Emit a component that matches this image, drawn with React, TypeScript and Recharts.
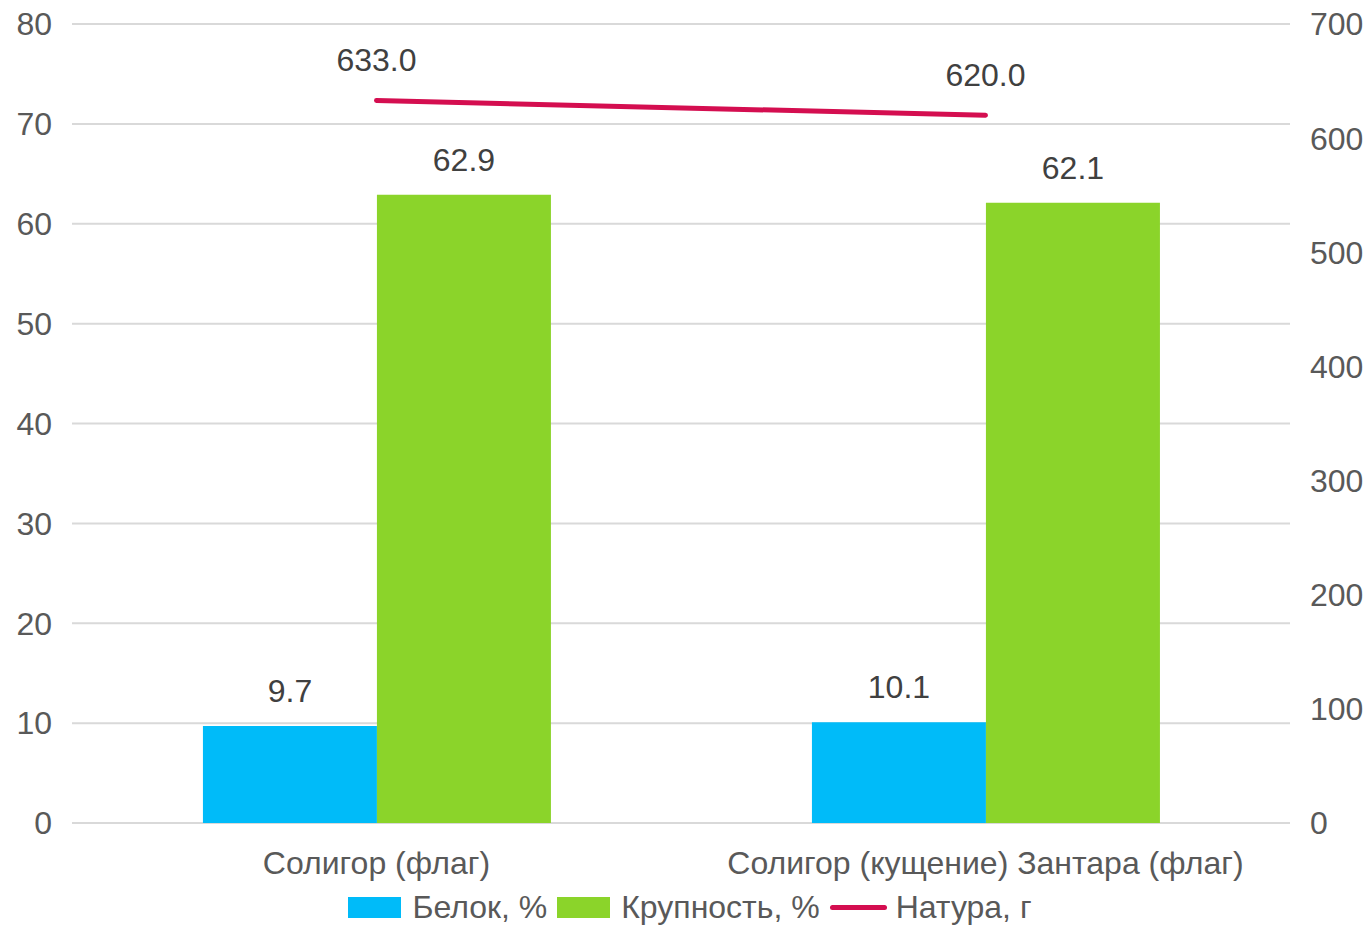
import { Bar, CartesianGrid, ComposedChart, LabelList, Legend, Line, XAxis, YAxis } from "recharts"

const categories = ["Солигор (флаг)", "Солигор (кущение) Зантара (флаг)"]
const protein = [9.7, 10.1]
const size = [62.9, 62.1]
const nature = [633.0, 620.0]
const leftTicks = [0, 10, 20, 30, 40, 50, 60, 70, 80]
const rightTicks = [0, 100, 200, 300, 400, 500, 600, 700]

const data = categories.map((name, i) => ({
  name,
  protein: protein[i],
  size: size[i],
  nature: nature[i],
}))

const font = "'Liberation Sans', Arial, sans-serif"
const FS = 32
const BLUE = "#00BBF9"
const GREEN = "#8BD42A"
const RED = "#D40E50"

const barLabel = (props: any) => {
  const { x, y, width, value } = props
  return (
    <text x={x + width / 2} y={y - 24} textAnchor="middle" fill="#404040" fontSize={FS} fontFamily={font}>
      {Number(value).toFixed(1)}
    </text>
  )
}

const lineLabel = (props: any) => {
  const { x, y, value } = props
  return (
    <text x={x} y={y - 29} textAnchor="middle" fill="#404040" fontSize={FS} fontFamily={font}>
      {Number(value).toFixed(1)}
    </text>
  )
}

const legendItems = [
  { label: "Белок, %", color: BLUE, type: "rect" },
  { label: "Крупность, %", color: GREEN, type: "rect" },
  { label: "Натура, г", color: RED, type: "line" },
]

function LegendContent() {
  return (
    <div
      style={{
        display: "flex",
        justifyContent: "center",
        alignItems: "center",
        height: 45,
        paddingLeft: 11,
        paddingTop: 3,
        boxSizing: "border-box",
        fontFamily: font,
        fontSize: FS,
        color: "#595959",
      }}
    >
      {legendItems.map((it, i) => (
        <div key={it.label} style={{ display: "flex", alignItems: "center", marginRight: i < legendItems.length - 1 ? 10 : 0 }}>
          {it.type === "rect" ? (
            <div style={{ width: 53, height: 21, background: it.color, marginRight: 11 }} />
          ) : (
            <div style={{ width: 57, height: 5, borderRadius: 3, background: it.color, marginRight: 9 }} />
          )}
          <span>{it.label}</span>
        </div>
      ))}
    </div>
  )
}

export default function App() {
  return (
    <div style={{ position: "absolute", left: 0, top: 0, background: "#fff" }}>
      <ComposedChart
        width={1369}
        height={928}
        data={data}
        margin={{ top: 24, right: 0, bottom: 0, left: 0 }}
        barCategoryGap="21.5%"
        barGap={0}
      >
        <CartesianGrid yAxisId="left" vertical={false} stroke="#d9d9d9" strokeWidth={2} />
        <XAxis
          dataKey="name"
          axisLine={false}
          tickLine={false}
          tickSize={0}
          tickMargin={28}
          height={60}
          interval={0}
          tick={{ fill: "#595959", fontSize: FS, fontFamily: font }}
        />
        <YAxis
          yAxisId="left"
          domain={[0, 80]}
          ticks={leftTicks}
          width={72}
          axisLine={false}
          tickLine={false}
          tickSize={0}
          tickMargin={20}
          tick={{ fill: "#595959", fontSize: FS, fontFamily: font }}
        />
        <YAxis
          yAxisId="right"
          orientation="right"
          domain={[0, 700]}
          ticks={rightTicks}
          width={79}
          axisLine={false}
          tickLine={false}
          tickSize={0}
          tickMargin={20}
          tick={{ fill: "#595959", fontSize: FS, fontFamily: font, textAnchor: "start" }}
        />
        <Legend verticalAlign="bottom" height={45} content={<LegendContent />} />
        <Bar yAxisId="left" dataKey="protein" name="Белок, %" fill={BLUE} isAnimationActive={false}>
          <LabelList dataKey="protein" content={barLabel} />
        </Bar>
        <Bar yAxisId="left" dataKey="size" name="Крупность, %" fill={GREEN} isAnimationActive={false}>
          <LabelList dataKey="size" content={barLabel} />
        </Bar>
        <Line
          yAxisId="right"
          type="linear"
          dataKey="nature"
          name="Натура, г"
          stroke={RED}
          strokeWidth={5}
          strokeLinecap="round"
          dot={false}
          isAnimationActive={false}
        >
          <LabelList dataKey="nature" content={lineLabel} />
        </Line>
      </ComposedChart>
    </div>
  )
}
